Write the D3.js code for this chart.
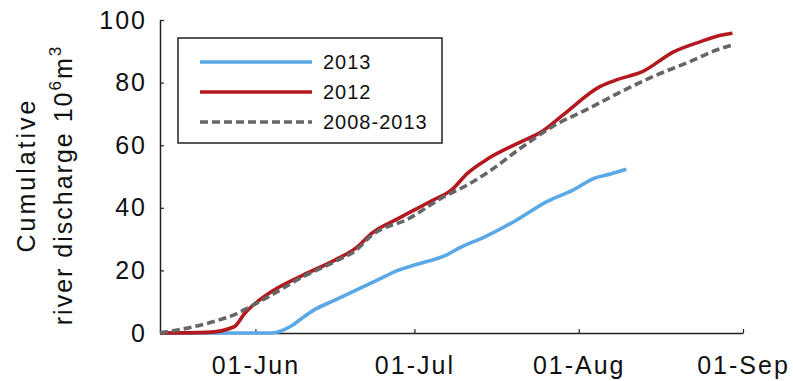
<!DOCTYPE html>
<html>
<head>
<meta charset="utf-8">
<script src="https://cdn.jsdelivr.net/npm/d3@7"></script>
<style>
  body { margin: 0; background: #fff; }
  svg { display: block; font-family: "Liberation Sans", Arial, sans-serif; }
</style>
</head>
<body>
<svg id="chart" width="793" height="381"></svg>
<script>
// cumulative river discharge, 10^6 m^3
var dates2013 = ["2013-05-14","2013-06-04","2013-06-08","2013-06-10","2013-06-12","2013-06-16","2013-06-20","2013-06-24","2013-06-28","2013-07-01","2013-07-07","2013-07-10","2013-07-14","2013-07-20","2013-07-26","2013-07-31","2013-08-04","2013-08-07","2013-08-10"];
var values2013 = [0, 0, 2.5, 5, 7.3, 10.5, 13.7, 16.9, 20.1, 21.7, 24.9, 27.6, 30.5, 35.8, 42, 45.7, 49.5, 50.8, 52.3];

var dates2012 = ["2013-05-14","2013-05-23","2013-05-28","2013-05-30","2013-06-01","2013-06-04","2013-06-10","2013-06-16","2013-06-20","2013-06-23","2013-06-28","2013-07-04","2013-07-08","2013-07-11","2013-07-15","2013-07-21","2013-07-25","2013-07-29","2013-08-05","2013-08-08","2013-08-13","2013-08-19","2013-08-24","2013-08-28","2013-08-30"];
var values2012 = [0, 0.2, 2, 6.3, 9.5, 13.2, 18.5, 23.3, 27.2, 31.9, 36.6, 42, 45.7, 51, 55.8, 61, 64.3, 69.6, 78.7, 80.8, 83.5, 89.9, 93.1, 95.2, 95.8];

var datesMean = ["2013-05-14","2013-05-19","2013-05-24","2013-05-28","2013-05-31","2013-06-04","2013-06-10","2013-06-16","2013-06-20","2013-06-23","2013-06-30","2013-07-06","2013-07-11","2013-07-15","2013-07-21","2013-07-27","2013-08-03","2013-08-09","2013-08-15","2013-08-22","2013-08-27","2013-08-30"];
var valuesMean = [0.1, 1.5, 3.6, 5.8, 8.4, 12.1, 18, 22.8, 26.5, 31.3, 36.6, 43, 47.3, 51.5, 59, 65.9, 71.8, 77.1, 81.9, 86.7, 90.4, 92];

var seriesNames = ["2013", "2012", "2008-2013"];
var xTicks = ["2013-06-01", "2013-07-01", "2013-08-01", "2013-09-01"];
var yTicks = [0, 20, 40, 60, 80, 100];

var parse = d3.timeParse("%Y-%m-%d");

var svg = d3.select("#chart"),
    margin = {top: 20, right: 50, bottom: 48, left: 160},
    width = +svg.attr("width") - margin.left - margin.right,
    height = +svg.attr("height") - margin.top - margin.bottom;

var chart = svg.append("g").attr("transform", "translate(" + margin.left + "," + margin.top + ")");

var x = d3.scaleTime()
    .domain([parse("2013-05-14"), parse("2013-09-01")])
    .range([0, width]);

var y = d3.scaleLinear()
    .domain([0, 100])
    .range([height, 0]);

function zipSeries(ds, vs) {
    return ds.map(function(d, i) { return {date: parse(d), value: vs[i]}; });
}

var series = [
    {name: seriesNames[0], data: zipSeries(dates2013, values2013), colour: "#5aa8e6", dash: null},
    {name: seriesNames[1], data: zipSeries(dates2012, values2012), colour: "#b3191e", dash: null},
    {name: seriesNames[2], data: zipSeries(datesMean, valuesMean), colour: "#666666", dash: "8,4"}
];

var line = d3.line()
    .x(function(d) { return x(d.date); })
    .y(function(d) { return y(d.value); })
    .curve(d3.curveMonotoneX);

// axes, matlab style with ticks pointing in
var xAxis = chart.append("g")
    .attr("transform", "translate(0," + height + ")")
    .call(d3.axisBottom(x)
        .tickValues(xTicks.map(parse))
        .tickFormat(d3.timeFormat("%d-%b"))
        .tickSizeInner(-4)
        .tickSizeOuter(0)
        .tickPadding(23));

var yAxis = chart.append("g")
    .call(d3.axisLeft(y)
        .tickValues(yTicks)
        .tickSizeInner(-4)
        .tickSizeOuter(0)
        .tickPadding(13));

[xAxis, yAxis].forEach(function(ax) {
    ax.select(".domain").attr("stroke", "#222").attr("stroke-width", 1.5);
    ax.selectAll(".tick line").attr("stroke", "#222").attr("stroke-width", 1.2);
    ax.selectAll(".tick text")
        .attr("fill", "#111")
        .style("font-size", "25px")
        .style("letter-spacing", "2px")
        .style("font-family", "'Liberation Sans', Arial, sans-serif");
});

chart.append("g")
    .selectAll("path")
    .data(series)
    .enter().append("path")
    .attr("fill", "none")
    .attr("stroke", function(d) { return d.colour; })
    .attr("stroke-width", 3.6)
    .attr("stroke-dasharray", function(d) { return d.dash; })
    .attr("stroke-linejoin", "round")
    .attr("d", function(d) { return line(d.data); });

// legend
var legend = svg.append("g").attr("transform", "translate(178,38)");

legend.append("rect")
    .attr("width", 264)
    .attr("height", 105)
    .attr("fill", "#fff")
    .attr("stroke", "#222")
    .attr("stroke-width", 1.5);

var item = legend.selectAll(".item")
    .data(series)
    .enter().append("g")
    .attr("class", "item")
    .attr("transform", function(d, i) { return "translate(0," + (24 + i * 30) + ")"; });

item.append("line")
    .attr("x1", 22).attr("x2", 134)
    .attr("stroke", function(d) { return d.colour; })
    .attr("stroke-width", 3.6)
    .attr("stroke-dasharray", function(d) { return d.dash; });

item.append("text")
    .attr("x", 145)
    .attr("dy", "0.35em")
    .style("font-size", "20px")
    .style("letter-spacing", "1px")
    .attr("fill", "#111")
    .text(function(d) { return d.name; });

// y label, two lines
svg.append("text")
    .attr("transform", "translate(35,175) rotate(-90)")
    .attr("text-anchor", "middle")
    .style("font-size", "25px")
    .style("letter-spacing", "3px")
    .attr("fill", "#111")
    .text("Cumulative");

var yLab = svg.append("text")
    .attr("transform", "translate(72,185) rotate(-90)")
    .attr("text-anchor", "middle")
    .style("font-size", "25px")
    .style("letter-spacing", "2px")
    .attr("fill", "#111");
yLab.append("tspan").text("river discharge 10");
yLab.append("tspan").attr("dy", -11).style("font-size", "17px").text("6");
yLab.append("tspan").attr("dy", 11).text("m");
yLab.append("tspan").attr("dy", -11).style("font-size", "17px").text("3");
</script>
</body>
</html>
